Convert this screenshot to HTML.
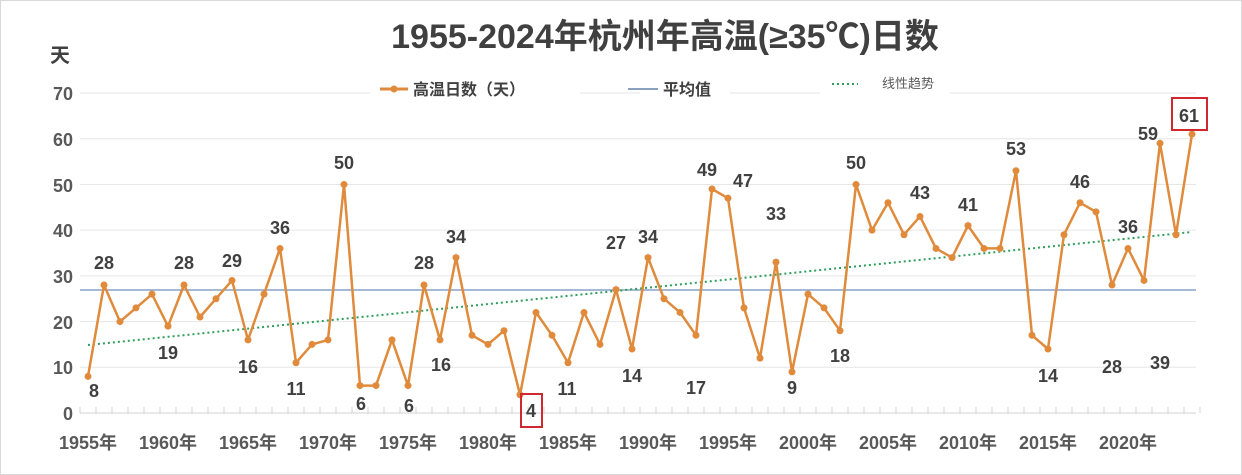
<!DOCTYPE html>
<html><head><meta charset="utf-8"><style>
html,body{margin:0;padding:0;background:#fff}
svg{display:block;font-family:"Liberation Sans","Noto Sans CJK SC",sans-serif}
</style></head><body>
<svg id="c" width="1242" height="475" viewBox="0 0 1242 475">
<rect x="0.5" y="0.5" width="1241" height="474" fill="#fff" stroke="#d9d9d9"/>
<text x="665" y="48" text-anchor="middle" font-size="34" font-weight="bold" fill="#404040">1955-2024年杭州年高温(≥35℃)日数</text>
<text x="50" y="62" font-size="20" font-weight="bold" fill="#404040">天</text>
<g font-size="18" font-weight="bold" fill="#595959" text-anchor="end">
<text x="73" y="100">70</text><text x="73" y="146">60</text><text x="73" y="192">50</text><text x="73" y="237">40</text><text x="73" y="283">30</text><text x="73" y="329">20</text><text x="73" y="374">10</text><text x="73" y="420">0</text>
</g>
<g id="grid" stroke="#e6e6e6" stroke-width="1"></g>
<line x1="80" y1="413" x2="1196" y2="413" stroke="#d0d0d0"/>
<g id="ticks" stroke="#d0d0d0"></g>
<g font-size="18" font-weight="bold" fill="#595959" text-anchor="middle">
<text x="88" y="449">1955年</text><text x="168" y="449">1960年</text><text x="248" y="449">1965年</text><text x="328" y="449">1970年</text><text x="408" y="449">1975年</text><text x="488" y="449">1980年</text><text x="568" y="449">1985年</text><text x="648" y="449">1990年</text><text x="728" y="449">1995年</text><text x="808" y="449">2000年</text><text x="888" y="449">2005年</text><text x="968" y="449">2010年</text><text x="1048" y="449">2015年</text><text x="1128" y="449">2020年</text>
</g>
<line x1="80" y1="290" x2="1196" y2="290" stroke="#6f8fbf" stroke-width="1.3"/>
<line x1="88" y1="345" x2="1192" y2="232" stroke="#2e9e5a" stroke-width="2" stroke-dasharray="2,3"/>
<rect x="370" y="76" width="210" height="26" fill="#fff"/>
<rect x="640" y="76" width="90" height="26" fill="#fff"/>
<rect x="820" y="70" width="130" height="26" fill="#fff"/>
<line x1="380" y1="89" x2="408" y2="89" stroke="#e08a3c" stroke-width="3"/><circle cx="394" cy="89" r="3.5" fill="#e08a3c"/>
<text x="413" y="95" font-size="16" font-weight="bold" fill="#404040">高温日数（天）</text>
<line x1="628" y1="89" x2="658" y2="89" stroke="#8aa0bf" stroke-width="2"/>
<text x="663" y="95" font-size="16" font-weight="bold" fill="#404040">平均值</text>
<line x1="832" y1="84" x2="858" y2="84" stroke="#2e9e5a" stroke-width="2" stroke-dasharray="2,3"/>
<text x="882" y="88" font-size="13" fill="#595959">线性趋势</text>
<polyline id="ln" fill="none" stroke="#e08a3c" stroke-width="2.5" stroke-linejoin="round"/>
<g id="dots" fill="#e08a3c"></g>
<rect x="521" y="394" width="21" height="33" fill="none" stroke="#d0282e" stroke-width="2"/>
<rect x="1172" y="98" width="35" height="32" fill="none" stroke="#d0282e" stroke-width="2"/>
<g font-size="18" font-weight="bold" fill="#404040" text-anchor="middle">
<text x="94" y="397">8</text><text x="104" y="269">28</text><text x="168" y="359">19</text><text x="184" y="269">28</text><text x="232" y="267">29</text><text x="248" y="373">16</text><text x="280" y="234">36</text><text x="296" y="395">11</text><text x="344" y="169">50</text><text x="361" y="410">6</text><text x="409" y="412">6</text><text x="424" y="269">28</text><text x="441" y="371">16</text><text x="456" y="243">34</text><text x="531" y="417">4</text><text x="567" y="395">11</text><text x="616" y="249">27</text><text x="632" y="382">14</text><text x="648" y="243">34</text><text x="696" y="394">17</text><text x="707" y="176">49</text><text x="743" y="187">47</text><text x="776" y="220">33</text><text x="792" y="394">9</text><text x="840" y="362">18</text><text x="856" y="169">50</text><text x="920" y="199">43</text><text x="968" y="211">41</text><text x="1016" y="155">53</text><text x="1048" y="382">14</text><text x="1080" y="188">46</text><text x="1112" y="373">28</text><text x="1128" y="233">36</text><text x="1160" y="369">39</text><text x="1148" y="140">59</text><text x="1189" y="122">61</text>
</g>
</svg>
<script>
var d=[8,28,20,23,26,19,28,21,25,29,16,26,36,11,15,16,50,6,6,16,6,28,16,34,17,15,18,4,22,17,11,22,15,27,14,34,25,22,17,49,47,23,12,33,9,26,23,18,50,40,46,39,43,36,34,41,36,36,53,17,14,39,46,44,28,36,29,59,39,61];
var ns="http://www.w3.org/2000/svg",p=[],dots=document.getElementById('dots');
d.forEach(function(v,i){var x=88+16*i,y=413-4.571*v;p.push(x+','+y.toFixed(1));var c=document.createElementNS(ns,'circle');c.setAttribute('cx',x);c.setAttribute('cy',y);c.setAttribute('r',3.5);dots.appendChild(c);});
document.getElementById('ln').setAttribute('points',p.join(' '));
var g=document.getElementById('grid');for(var k=1;k<=7;k++){var l=document.createElementNS(ns,'line');var y=413-45.71*k;l.setAttribute('x1',80);l.setAttribute('x2',1196);l.setAttribute('y1',y);l.setAttribute('y2',y);g.appendChild(l);}
var t=document.getElementById('ticks');for(var i=0;i<=70;i++){var x=80+16*i;var l=document.createElementNS(ns,'line');l.setAttribute('x1',x);l.setAttribute('x2',x);l.setAttribute('y1',407);l.setAttribute('y2',413);t.appendChild(l);}
</script>
</body></html>
